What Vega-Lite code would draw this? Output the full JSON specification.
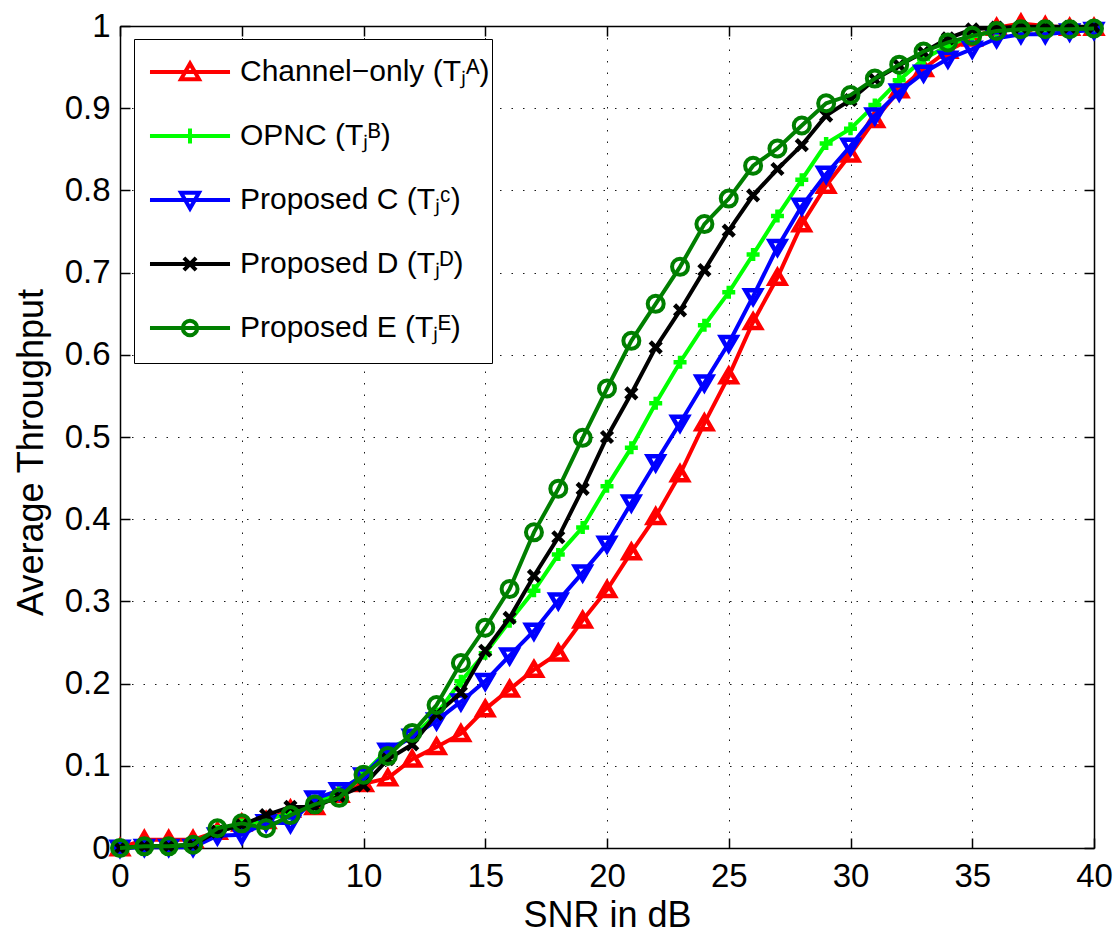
{
"$schema": "https://vega.github.io/schema/vega-lite/v6.json",
"autosize": "none",
"padding": {"left": 120, "top": 26, "right": 20, "bottom": 85},
"width": 974,
"height": 822,
"background": "white",
"config": {"view": {"stroke": null}},
"datasets": {
"d": [
{"s":"A","x":0,"y":0},{"s":"A","x":1,"y":0.01},{"s":"A","x":2,"y":0.01},{"s":"A","x":3,"y":0.01},{"s":"A","x":4,"y":0.02},{"s":"A","x":5,"y":0.03},{"s":"A","x":6,"y":0.033},{"s":"A","x":7,"y":0.047},{"s":"A","x":8,"y":0.05},{"s":"A","x":9,"y":0.065},{"s":"A","x":10,"y":0.078},{"s":"A","x":11,"y":0.085},{"s":"A","x":12,"y":0.108},{"s":"A","x":13,"y":0.123},{"s":"A","x":14,"y":0.139},{"s":"A","x":15,"y":0.169},{"s":"A","x":16,"y":0.193},{"s":"A","x":17,"y":0.217},{"s":"A","x":18,"y":0.237},{"s":"A","x":19,"y":0.277},{"s":"A","x":20,"y":0.314},{"s":"A","x":21,"y":0.36},{"s":"A","x":22,"y":0.403},{"s":"A","x":23,"y":0.455},{"s":"A","x":24,"y":0.517},{"s":"A","x":25,"y":0.574},{"s":"A","x":26,"y":0.64},{"s":"A","x":27,"y":0.694},{"s":"A","x":28,"y":0.759},{"s":"A","x":29,"y":0.806},{"s":"A","x":30,"y":0.844},{"s":"A","x":31,"y":0.886},{"s":"A","x":32,"y":0.922},{"s":"A","x":33,"y":0.948},{"s":"A","x":34,"y":0.97},{"s":"A","x":35,"y":0.985},{"s":"A","x":36,"y":0.998},{"s":"A","x":37,"y":1.003},{"s":"A","x":38,"y":1.0},{"s":"A","x":39,"y":0.998},{"s":"A","x":40,"y":0.998},
{"s":"B","x":0,"y":0},{"s":"B","x":1,"y":0.002},{"s":"B","x":2,"y":0.002},{"s":"B","x":3,"y":0.004},{"s":"B","x":4,"y":0.02},{"s":"B","x":5,"y":0.028},{"s":"B","x":6,"y":0.035},{"s":"B","x":7,"y":0.042},{"s":"B","x":8,"y":0.055},{"s":"B","x":9,"y":0.068},{"s":"B","x":10,"y":0.09},{"s":"B","x":11,"y":0.12},{"s":"B","x":12,"y":0.135},{"s":"B","x":13,"y":0.163},{"s":"B","x":14,"y":0.203},{"s":"B","x":15,"y":0.237},{"s":"B","x":16,"y":0.276},{"s":"B","x":17,"y":0.313},{"s":"B","x":18,"y":0.357},{"s":"B","x":19,"y":0.39},{"s":"B","x":20,"y":0.44},{"s":"B","x":21,"y":0.487},{"s":"B","x":22,"y":0.541},{"s":"B","x":23,"y":0.591},{"s":"B","x":24,"y":0.636},{"s":"B","x":25,"y":0.676},{"s":"B","x":26,"y":0.722},{"s":"B","x":27,"y":0.769},{"s":"B","x":28,"y":0.813},{"s":"B","x":29,"y":0.857},{"s":"B","x":30,"y":0.875},{"s":"B","x":31,"y":0.904},{"s":"B","x":32,"y":0.934},{"s":"B","x":33,"y":0.96},{"s":"B","x":34,"y":0.976},{"s":"B","x":35,"y":0.988},{"s":"B","x":36,"y":0.994},{"s":"B","x":37,"y":0.996},{"s":"B","x":38,"y":0.996},{"s":"B","x":39,"y":0.996},{"s":"B","x":40,"y":0.996},
{"s":"C","x":0,"y":0},{"s":"C","x":1,"y":0.001},{"s":"C","x":2,"y":0.001},{"s":"C","x":3,"y":0.001},{"s":"C","x":4,"y":0.015},{"s":"C","x":5,"y":0.016},{"s":"C","x":6,"y":0.031},{"s":"C","x":7,"y":0.03},{"s":"C","x":8,"y":0.06},{"s":"C","x":9,"y":0.07},{"s":"C","x":10,"y":0.088},{"s":"C","x":11,"y":0.118},{"s":"C","x":12,"y":0.135},{"s":"C","x":13,"y":0.155},{"s":"C","x":14,"y":0.178},{"s":"C","x":15,"y":0.203},{"s":"C","x":16,"y":0.234},{"s":"C","x":17,"y":0.264},{"s":"C","x":18,"y":0.301},{"s":"C","x":19,"y":0.335},{"s":"C","x":20,"y":0.37},{"s":"C","x":21,"y":0.42},{"s":"C","x":22,"y":0.469},{"s":"C","x":23,"y":0.517},{"s":"C","x":24,"y":0.566},{"s":"C","x":25,"y":0.614},{"s":"C","x":26,"y":0.671},{"s":"C","x":27,"y":0.731},{"s":"C","x":28,"y":0.781},{"s":"C","x":29,"y":0.82},{"s":"C","x":30,"y":0.854},{"s":"C","x":31,"y":0.891},{"s":"C","x":32,"y":0.92},{"s":"C","x":33,"y":0.943},{"s":"C","x":34,"y":0.96},{"s":"C","x":35,"y":0.972},{"s":"C","x":36,"y":0.985},{"s":"C","x":37,"y":0.99},{"s":"C","x":38,"y":0.99},{"s":"C","x":39,"y":0.993},{"s":"C","x":40,"y":0.995},
{"s":"D","x":0,"y":0},{"s":"D","x":1,"y":0.002},{"s":"D","x":2,"y":0.002},{"s":"D","x":3,"y":0.004},{"s":"D","x":4,"y":0.02},{"s":"D","x":5,"y":0.028},{"s":"D","x":6,"y":0.04},{"s":"D","x":7,"y":0.05},{"s":"D","x":8,"y":0.05},{"s":"D","x":9,"y":0.063},{"s":"D","x":10,"y":0.076},{"s":"D","x":11,"y":0.108},{"s":"D","x":12,"y":0.126},{"s":"D","x":13,"y":0.163},{"s":"D","x":14,"y":0.189},{"s":"D","x":15,"y":0.24},{"s":"D","x":16,"y":0.28},{"s":"D","x":17,"y":0.331},{"s":"D","x":18,"y":0.378},{"s":"D","x":19,"y":0.437},{"s":"D","x":20,"y":0.5},{"s":"D","x":21,"y":0.553},{"s":"D","x":22,"y":0.609},{"s":"D","x":23,"y":0.654},{"s":"D","x":24,"y":0.703},{"s":"D","x":25,"y":0.751},{"s":"D","x":26,"y":0.794},{"s":"D","x":27,"y":0.826},{"s":"D","x":28,"y":0.855},{"s":"D","x":29,"y":0.891},{"s":"D","x":30,"y":0.91},{"s":"D","x":31,"y":0.935},{"s":"D","x":32,"y":0.952},{"s":"D","x":33,"y":0.968},{"s":"D","x":34,"y":0.985},{"s":"D","x":35,"y":0.996},{"s":"D","x":36,"y":0.998},{"s":"D","x":37,"y":0.999},{"s":"D","x":38,"y":0.999},{"s":"D","x":39,"y":0.999},{"s":"D","x":40,"y":0.999},
{"s":"E","x":0,"y":0},{"s":"E","x":1,"y":0.002},{"s":"E","x":2,"y":0.002},{"s":"E","x":3,"y":0.004},{"s":"E","x":4,"y":0.024},{"s":"E","x":5,"y":0.03},{"s":"E","x":6,"y":0.024},{"s":"E","x":7,"y":0.04},{"s":"E","x":8,"y":0.053},{"s":"E","x":9,"y":0.061},{"s":"E","x":10,"y":0.089},{"s":"E","x":11,"y":0.112},{"s":"E","x":12,"y":0.14},{"s":"E","x":13,"y":0.174},{"s":"E","x":14,"y":0.225},{"s":"E","x":15,"y":0.268},{"s":"E","x":16,"y":0.315},{"s":"E","x":17,"y":0.384},{"s":"E","x":18,"y":0.437},{"s":"E","x":19,"y":0.499},{"s":"E","x":20,"y":0.559},{"s":"E","x":21,"y":0.617},{"s":"E","x":22,"y":0.662},{"s":"E","x":23,"y":0.707},{"s":"E","x":24,"y":0.759},{"s":"E","x":25,"y":0.79},{"s":"E","x":26,"y":0.83},{"s":"E","x":27,"y":0.851},{"s":"E","x":28,"y":0.879},{"s":"E","x":29,"y":0.906},{"s":"E","x":30,"y":0.916},{"s":"E","x":31,"y":0.936},{"s":"E","x":32,"y":0.953},{"s":"E","x":33,"y":0.969},{"s":"E","x":34,"y":0.98},{"s":"E","x":35,"y":0.988},{"s":"E","x":36,"y":0.994},{"s":"E","x":37,"y":0.996},{"s":"E","x":38,"y":0.996},{"s":"E","x":39,"y":0.996},{"s":"E","x":40,"y":0.997}
]
},
"data": {"name": "d"},
"layer": [
{
"transform": [{"filter": "datum.s === 'A'"}],
"mark": {"type": "line", "color": "#ff0000", "strokeWidth": 4, "point": {"shape": "M0,-0.72L0.78,0.62L-0.78,0.62Z", "filled": false, "size": 400, "strokeWidth": 4.5, "color": "#ff0000"}},
"encoding": {
"x": {"field": "x", "type": "quantitative", "scale": {"domain": [0, 40], "nice": false, "zero": false},
"axis": {"orient": "bottom", "values": [0,5,10,15,20,25,30,35,40], "grid": true, "gridColor": "#000000", "gridDash": [1.5, 10], "gridWidth": 1, "gridOpacity": 0.9, "tickSize": -10, "tickColor": "#000000", "tickWidth": 1.5, "domainColor": "#000000", "domainWidth": 1.5, "labelFont": "Liberation Sans", "labelFontSize": 33, "labelColor": "#000000", "labelPadding": 22, "labelFlush": false, "labelOverlap": false, "title": "SNR in dB", "titleFont": "Liberation Sans", "titleFontSize": 36, "titleFontWeight": "normal", "titleColor": "#000000", "titleY": 78, "titleBaseline": "alphabetic"}},
"y": {"field": "y", "type": "quantitative", "scale": {"domain": [0, 1], "nice": false},
"axis": {"orient": "left", "values": [0,0.1,0.2,0.3,0.4,0.5,0.6,0.7,0.8,0.9,1], "format": "~g", "grid": true, "gridColor": "#000000", "gridDash": [1.5, 10], "gridWidth": 1, "gridOpacity": 0.9, "tickSize": -10, "tickColor": "#000000", "tickWidth": 1.5, "domainColor": "#000000", "domainWidth": 1.5, "labelFont": "Liberation Sans", "labelFontSize": 33, "labelColor": "#000000", "labelPadding": 20, "labelFlush": false, "labelOverlap": false, "title": "Average Throughput", "titleFont": "Liberation Sans", "titleFontSize": 36, "titleFontWeight": "normal", "titleColor": "#000000", "titleX": -78, "titleY": 426, "titleAngle": -90, "titleAlign": "center", "titleBaseline": "alphabetic"}}
}
},
{
"transform": [{"filter": "datum.s === 'B'"}],
"mark": {"type": "line", "color": "#00ff00", "strokeWidth": 4, "point": {"shape": "M-0.65,0H0.65M0,-0.65V0.65", "filled": false, "size": 400, "strokeWidth": 4.5, "color": "#00ff00"}},
"encoding": {
"x": {"field": "x", "type": "quantitative", "axis": null},
"y": {"field": "y", "type": "quantitative", "axis": null}
}
},
{
"transform": [{"filter": "datum.s === 'C'"}],
"mark": {"type": "line", "color": "#0000ff", "strokeWidth": 4, "point": {"shape": "M0,0.72L0.78,-0.62L-0.78,-0.62Z", "filled": false, "size": 400, "strokeWidth": 4.5, "color": "#0000ff"}},
"encoding": {
"x": {"field": "x", "type": "quantitative", "axis": null},
"y": {"field": "y", "type": "quantitative", "axis": null}
}
},
{
"transform": [{"filter": "datum.s === 'D'"}],
"mark": {"type": "line", "color": "#000000", "strokeWidth": 4, "point": {"shape": "M-0.55,-0.55L0.55,0.55M-0.55,0.55L0.55,-0.55", "filled": false, "size": 400, "strokeWidth": 4.5, "color": "#000000"}},
"encoding": {
"x": {"field": "x", "type": "quantitative", "axis": null},
"y": {"field": "y", "type": "quantitative", "axis": null}
}
},
{
"transform": [{"filter": "datum.s === 'E'"}],
"mark": {"type": "line", "color": "#007f00", "strokeWidth": 4, "point": {"shape": "M-0.8,0A0.8,0.8,0,1,0,0.8,0A0.8,0.8,0,1,0,-0.8,0Z", "filled": false, "size": 400, "strokeWidth": 4, "color": "#007f00"}},
"encoding": {
"x": {"field": "x", "type": "quantitative", "axis": null},
"y": {"field": "y", "type": "quantitative", "axis": null}
}
},
{
"mark": {"type": "point", "opacity": 0, "filled": false, "strokeWidth": 4},
"encoding": {
"x": {"field": "x", "type": "quantitative", "scale": {"domain": [0, 40], "nice": false, "zero": false},
"axis": {"orient": "top", "values": [0,5,10,15,20,25,30,35,40], "labels": false, "title": null, "grid": false, "tickSize": -10, "tickColor": "#000000", "tickWidth": 1.5, "domainColor": "#000000", "domainWidth": 1.5}},
"y": {"field": "y", "type": "quantitative", "scale": {"domain": [0, 1], "nice": false},
"axis": {"orient": "right", "values": [0,0.1,0.2,0.3,0.4,0.5,0.6,0.7,0.8,0.9,1], "labels": false, "title": null, "grid": false, "tickSize": -10, "tickColor": "#000000", "tickWidth": 1.5, "domainColor": "#000000", "domainWidth": 1.5}},
"stroke": {"field": "s", "type": "nominal",
"scale": {"domain": ["A","B","C","D","E"], "range": ["#ff0000","#00ff00","#0000ff","#000000","#007f00"]},
"legend": {"orient": "none", "legendX": 14, "legendY": 13, "title": null, "padding": 2, "rowPadding": 0, "symbolSize": 3364, "symbolStrokeWidth": 4, "symbolOffset": 23, "symbolFillColor": "transparent", "labelOffset": 19, "labelFont": "Liberation Sans", "labelFontSize": 30, "labelColor": "#000000", "labelLimit": 500, "strokeColor": "#000000", "fillColor": "#ffffff",
"labelExpr": "{'A':'Channel−only (Tⱼᴬ)','B':'OPNC (Tⱼᴮ)','C':'Proposed C (Tⱼᶜ)','D':'Proposed D (Tⱼᴰ)','E':'Proposed E (Tⱼᴱ)'}[datum.label]"}},
"shape": {"field": "s", "type": "nominal",
"scale": {"domain": ["A","B","C","D","E"], "range": [
"M-1.38,0H1.38M0,-0.29L0.31,0.25L-0.31,0.25ZM0,0.86",
"M-1.38,0H1.38M0,-0.26V0.26M0,0.86",
"M-1.38,0H1.38M0,0.29L0.31,-0.25L-0.31,-0.25ZM0,0.86",
"M-1.38,0H1.38M-0.21,-0.21L0.21,0.21M-0.21,0.21L0.21,-0.21M0,0.86",
"M-1.38,0H1.38M-0.25,0A0.25,0.25,0,1,0,0.25,0A0.25,0.25,0,1,0,-0.25,0ZM0,0.86"]},
"legend": {"orient": "none", "legendX": 14, "legendY": 13, "title": null, "padding": 2, "rowPadding": 0, "symbolSize": 3364, "symbolStrokeWidth": 4, "symbolOffset": 23, "symbolFillColor": "transparent", "labelOffset": 19, "labelFont": "Liberation Sans", "labelFontSize": 30, "labelColor": "#000000", "labelLimit": 500, "strokeColor": "#000000", "fillColor": "#ffffff",
"labelExpr": "{'A':'Channel−only (Tⱼᴬ)','B':'OPNC (Tⱼᴮ)','C':'Proposed C (Tⱼᶜ)','D':'Proposed D (Tⱼᴰ)','E':'Proposed E (Tⱼᴱ)'}[datum.label]"}}
}
}
],
"resolve": {"axis": {"x": "independent", "y": "independent"}}
}
